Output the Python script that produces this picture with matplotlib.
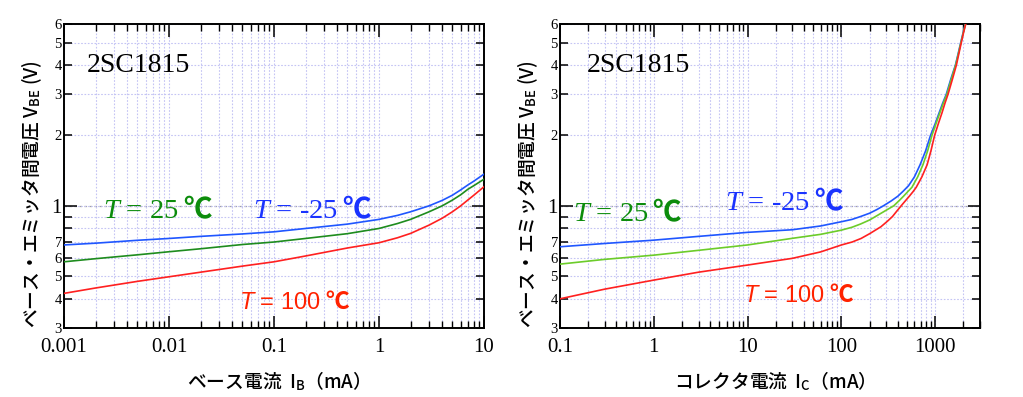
import matplotlib
matplotlib.use("Agg")
import matplotlib.pyplot as plt
from matplotlib.ticker import FixedLocator, FixedFormatter, LogLocator, NullFormatter, NullLocator, FuncFormatter
from matplotlib.offsetbox import TextArea, HPacker, AnnotationBbox

plt.rcParams['font.family'] = ['Liberation Serif', 'DejaVu Sans']
plt.rcParams['mathtext.fontset'] = 'custom'
plt.rcParams['mathtext.rm'] = 'Liberation Serif'
plt.rcParams['mathtext.it'] = 'Liberation Serif:italic'
plt.rcParams['mathtext.sf'] = 'Liberation Sans:italic'

# ---------------- data ----------------
# Left: V_BE (V) vs I_B (mA)
ib_ma = [0.001, 0.002, 0.005, 0.01, 0.02, 0.05, 0.1, 0.2, 0.5, 1, 1.5, 2, 3, 4, 5, 6, 7, 8, 10]
vbe_ib_m25 = [0.68, 0.692, 0.712, 0.725, 0.74, 0.758, 0.774, 0.80, 0.835, 0.875, 0.91, 0.943,
              1.0, 1.055, 1.11, 1.17, 1.227, 1.275, 1.367]
vbe_ib_25 = [0.576, 0.594, 0.617, 0.636, 0.655, 0.683, 0.70, 0.725, 0.76, 0.80, 0.84, 0.875,
             0.943, 1.0, 1.058, 1.115, 1.176, 1.22, 1.30]
vbe_ib_100 = [0.422, 0.445, 0.475, 0.497, 0.52, 0.552, 0.576, 0.61, 0.66, 0.695, 0.73, 0.762,
              0.827, 0.885, 0.943, 1.0, 1.058, 1.11, 1.207]

# Right: V_BE (V) vs I_C (mA)
ic_m25 = [0.1, 0.3, 1, 3, 10, 30, 60, 100, 130, 160, 200, 240, 280, 340, 400, 460, 520, 600,
          690, 790, 890, 1000, 1100, 1200, 1310, 1470, 1640, 1760, 1870, 1980, 2090]
vbe_ic_m25 = [0.668, 0.69, 0.713, 0.74, 0.77, 0.79, 0.82, 0.855, 0.875, 0.90, 0.93, 0.965, 1.0,
              1.05, 1.1, 1.16, 1.22, 1.33, 1.5, 1.72, 2.0, 2.25, 2.5, 2.75, 3.0, 3.5, 4.0, 4.5,
              5.0, 5.5, 6.0]
ic_25 = [0.1, 0.3, 1, 3, 10, 30, 60, 100, 130, 160, 200, 264, 310, 361, 410, 460, 510, 564, 650,
         740, 830, 921, 1020, 1120, 1220, 1330, 1490, 1650, 1770, 1880, 1990, 2100]
vbe_ic_25 = [0.563, 0.59, 0.615, 0.645, 0.68, 0.726, 0.755, 0.787, 0.81, 0.836, 0.87, 0.929,
             0.965, 1.0, 1.05, 1.1, 1.15, 1.2, 1.33, 1.5, 1.72, 2.0, 2.25, 2.5, 2.75, 3.0, 3.5,
             4.0, 4.5, 5.0, 5.5, 6.0]
ic_100 = [0.1, 0.3, 1, 3, 10, 30, 60, 100, 130, 162, 200, 264, 310, 350, 390, 433, 480, 530, 580,
          627, 720, 820, 900, 984, 1080, 1180, 1270, 1368, 1530, 1680, 1790, 1897, 2000, 2113]
vbe_ic_100 = [0.40, 0.44, 0.481, 0.52, 0.558, 0.596, 0.635, 0.68, 0.70, 0.725, 0.76, 0.814, 0.86,
              0.90, 0.95, 1.0, 1.05, 1.1, 1.15, 1.2, 1.33, 1.5, 1.72, 2.0, 2.25, 2.5, 2.75, 3.0,
              3.5, 4.0, 4.5, 5.0, 5.5, 6.0]

y_ticks = [0.3, 0.4, 0.5, 0.6, 0.7, 0.8, 0.9, 1, 2, 3, 4, 5, 6]
y_tick_labels = ["3", "4", "5", "6", "7", "", "", "1", "2", "3", "4", "5", "6"]
left_xlim = (0.001, 10)
right_xlim = (0.1, 3000)
ylim = (0.3, 6)

part_name = "2SC1815"
label_m25 = "-25"
label_25 = "25"
label_100 = "100"
ylabel_text = "ベース・エミッタ間電圧 V$_\\mathregular{BE}$ (V)"
left_xlabel = "ベース電流  I$_\\mathregular{B}$（mA）"
right_xlabel = "コレクタ電流  I$_\\mathregular{C}$（mA）"

# ---------------- styles ----------------
C_BLUE = '#1f56ff'
C_GREEN_L = '#1e8c1e'
C_GREEN_R = '#6ccc2a'
C_RED = '#ff2020'
T_BLUE = '#1a33ff'
T_GREEN = '#0c8c0c'
T_RED = '#ff2200'
GRID_C = '#c4c4f4'
CJK = 'Noto Sans CJK JP'
LABEL_WEIGHT = 500

fig = plt.figure(figsize=(10.23, 3.97), dpi=100)
W, H = 1023, 397
ax_l = fig.add_axes([64 / W, 69 / H, 420 / W, 304 / H])
ax_r = fig.add_axes([560 / W, 69 / H, 420 / W, 304 / H])


def style_axes(ax, xlim, name_x):
    ax.set_xscale('log')
    ax.set_yscale('log')
    ax.set_xlim(*xlim)
    ax.set_ylim(*ylim)
    ax.xaxis.set_major_locator(LogLocator(base=10, numticks=20))
    ax.xaxis.set_minor_locator(LogLocator(base=10, subs=[2, 3, 4, 5, 6, 7, 8, 9], numticks=20))
    ax.xaxis.set_minor_formatter(NullFormatter())
    ax.xaxis.set_major_formatter(FuncFormatter(lambda v, p: ('%g' % v)))
    ax.yaxis.set_major_locator(FixedLocator(y_ticks))
    ax.yaxis.set_major_formatter(FixedFormatter(y_tick_labels))
    ax.yaxis.set_minor_locator(NullLocator())
    ax.grid(which='both', color=GRID_C, linestyle=(0, (1.5, 1.5)), linewidth=0.8, zorder=0)
    ax.axhline(1.0, color='#a0a0a0', linestyle=(0, (2, 2)), linewidth=0.9, zorder=0.5)
    ax.tick_params(axis='x', which='major', direction='in', top=True, bottom=True,
                   length=9, width=1.1, labelsize=15, pad=7)
    ax.tick_params(axis='x', which='minor', direction='in', top=True, bottom=True,
                   length=5, width=1.0)
    ax.tick_params(axis='y', which='major', direction='in', left=True, right=True,
                   length=6, width=1.1, labelsize=10.5, pad=1.5)
    for s in ax.spines.values():
        s.set_linewidth(1.4)
    ax.set_axisbelow(True)
    for lab in ax.get_yticklabels():
        if lab.get_text() == "1":
            lab.set_fontsize(15)
    for tk, v in zip(ax.yaxis.get_major_ticks(), y_ticks):
        if v == 1:
            tk.tick1line.set_color('#888888')
            tk.tick2line.set_color('#888888')
            tk.tick1line.set_markersize(9)
            tk.tick2line.set_markersize(9)
    ax.set_ylabel(ylabel_text, family=CJK, fontsize=13.5, weight=LABEL_WEIGHT, color='black')
    ax.yaxis.set_label_coords(-0.047, 0.44)
    ax.text(name_x, 0.862, part_name, transform=ax.transAxes,
            fontsize=20, family='Liberation Serif', ha='left', va='center')


style_axes(ax_l, left_xlim, 0.055)
style_axes(ax_r, right_xlim, 0.064)

ax_l.plot(ib_ma, vbe_ib_m25, color=C_BLUE, lw=1.2, zorder=3)
ax_l.plot(ib_ma, vbe_ib_25, color=C_GREEN_L, lw=1.2, zorder=3)
ax_l.plot(ib_ma, vbe_ib_100, color=C_RED, lw=1.2, zorder=3)

ax_r.plot(ic_m25, vbe_ic_m25, color=C_BLUE, lw=1.2, zorder=3)
ax_r.plot(ic_25, vbe_ic_25, color=C_GREEN_R, lw=1.2, zorder=3)
ax_r.plot(ic_100, vbe_ic_100, color=C_RED, lw=1.2, zorder=3)

ax_l.set_xlabel(left_xlabel, family=CJK, fontsize=13.5, weight=LABEL_WEIGHT)
ax_r.set_xlabel(right_xlabel, family=CJK, fontsize=13.5, weight=LABEL_WEIGHT)
ax_l.xaxis.set_label_coords(0.5, -0.135)
ax_r.xaxis.set_label_coords(0.5, -0.135)


def temp_label(ax, value, color, xy, serif=True, fs=20.5):
    if serif:
        main = TextArea("$T$ = " + value, textprops=dict(color=color, fontsize=fs,
                                                         family='Liberation Serif'))
    else:
        main = TextArea("$\\mathsf{T}$ = " + value, textprops=dict(color=color, fontsize=fs,
                                                                    family='Liberation Sans'))
    deg = TextArea("℃", textprops=dict(color=color, fontsize=fs, family=CJK, weight='bold'))
    box = HPacker(children=[main, deg], align='baseline', pad=0, sep=3)
    ab = AnnotationBbox(box, xy, xycoords=ax.transAxes, frameon=False,
                        box_alignment=(0, 0.5), pad=0, zorder=5)
    ax.add_artist(ab)


temp_label(ax_l, label_25, T_GREEN, (0.093, 0.388))
temp_label(ax_l, label_m25, T_BLUE, (0.45, 0.388))
temp_label(ax_l, label_100, T_RED, (0.417, 0.0855), serif=False, fs=17)

temp_label(ax_r, label_25, T_GREEN, (0.031, 0.378))
temp_label(ax_r, label_m25, T_BLUE, (0.393, 0.414))
temp_label(ax_r, label_100, T_RED, (0.436, 0.109), serif=False, fs=17)

fig.savefig('out.png', dpi=100)
